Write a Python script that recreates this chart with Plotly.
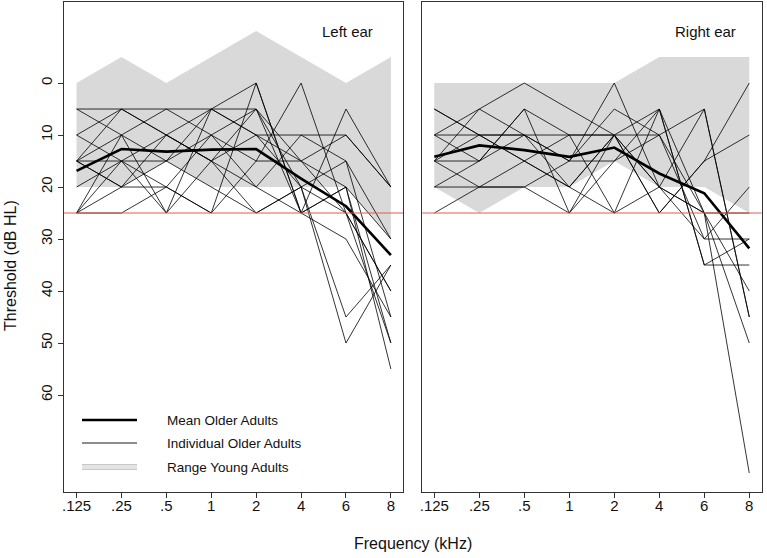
import plotly.graph_objects as go

freqs = [".125", ".25", ".5", "1", "2", "4", "6", "8"]
yticks = [0, 10, 20, 30, 40, 50, 60]

# Young adult range (min / max threshold) per ear
left_range_top = [0, -5, 0, -5, -10, -5, 0, -5]
left_range_bot = [20, 20, 15, 20, 20, 20, 20, 30]
right_range_top = [0, 0, 0, 0, 0, -5, -5, -5]
right_range_bot = [20, 25, 20, 20, 15, 20, 20, 25]

# Mean older adults
left_mean = [16.9, 12.7, 13.2, 12.8, 12.7, 18.4, 23.7, 33.1]
right_mean = [14.2, 12.0, 12.9, 14.2, 12.4, 17.4, 21.2, 31.8]

# Individual older adults
left_ind = [
    [5, 5, 10, 5, 5, 15, 10, 20],
    [5, 10, 5, 5, 0, 25, 20, 30],
    [10, 5, 10, 15, 5, 20, 45, 35],
    [10, 15, 20, 10, 15, 0, 25, 50],
    [15, 5, 5, 10, 5, 25, 5, 20],
    [15, 10, 15, 5, 10, 20, 15, 45],
    [15, 15, 10, 15, 20, 10, 10, 20],
    [15, 20, 20, 25, 15, 15, 25, 40],
    [20, 15, 15, 20, 25, 20, 50, 35],
    [25, 20, 15, 10, 20, 25, 20, 50],
    [25, 15, 25, 15, 10, 15, 20, 55],
    [25, 25, 20, 25, 0, 25, 30, 45],
    [25, 10, 25, 5, 10, 10, 15, 30],
    [15, 20, 10, 15, 25, 20, 25, 40],
]
right_ind = [
    [5, 10, 15, 20, 10, 5, 25, 40],
    [10, 5, 10, 15, 0, 20, 30, 30],
    [10, 15, 5, 10, 10, 10, 5, 45],
    [15, 5, 0, 5, 10, 25, 15, 0],
    [15, 10, 15, 20, 25, 5, 35, 35],
    [20, 15, 10, 20, 10, 20, 25, 75],
    [25, 20, 20, 15, 5, 10, 25, 50],
    [10, 10, 10, 10, 10, 25, 15, 10],
    [15, 15, 5, 25, 15, 10, 30, 20],
    [20, 20, 20, 25, 10, 20, 25, 25],
    [5, 10, 10, 15, 15, 5, 35, 30],
    [15, 20, 15, 10, 25, 20, 5, 45],
]

criterion = 25

GREY = "rgb(217,217,217)"
W, H = 767, 558
FONT = "Liberation Sans, Arial, Helvetica"

fig = go.Figure()

def add_panel(xa, ya, rtop, rbot, inds, mean):
    fig.add_trace(go.Scatter(x=freqs, y=rtop, mode="lines", line=dict(width=0, color=GREY),
                             xaxis=xa, yaxis=ya, showlegend=False, hoverinfo="skip"))
    fig.add_trace(go.Scatter(x=freqs, y=rbot, mode="lines", line=dict(width=0, color=GREY),
                             fill="tonexty", fillcolor=GREY,
                             xaxis=xa, yaxis=ya, showlegend=False, hoverinfo="skip"))
    for s in inds:
        fig.add_trace(go.Scatter(x=freqs, y=s, mode="lines", line=dict(width=0.8, color="black"),
                                 xaxis=xa, yaxis=ya, showlegend=False, hoverinfo="skip"))
    fig.add_trace(go.Scatter(x=freqs, y=mean, mode="lines", line=dict(width=2.6, color="black"),
                             xaxis=xa, yaxis=ya, showlegend=False, hoverinfo="skip"))

add_panel("x", "y", left_range_top, left_range_bot, left_ind, left_mean)
add_panel("x2", "y2", right_range_top, right_range_bot, right_ind, right_mean)

# criterion line
for xr, yr in (("x domain", "y"), ("x2 domain", "y2")):
    fig.add_shape(type="line", xref=xr, yref=yr, x0=0, x1=1, y0=criterion, y1=criterion,
                  line=dict(color="rgb(225,90,90)", width=1), layer="above")

axis_common = dict(type="category", categoryorder="array", categoryarray=freqs, automargin=False,
                   showline=True, mirror=True, linecolor="#333", linewidth=1,
                   ticks="outside", ticklen=5, tickcolor="#333", showgrid=False, zeroline=False,
                   ticklabelstandoff=-5,
                   tickfont=dict(family=FONT, size=15, color="#111"))
yaxis_common = dict(range=[78.65, -15.58], showline=True, mirror=True, linecolor="#333",
                    linewidth=1, showgrid=False, zeroline=False, automargin=False)

fig.update_layout(
    width=W, height=H, margin=dict(l=0, r=0, t=0, b=0, autoexpand=False),
    paper_bgcolor="white", plot_bgcolor="white", showlegend=False,
    xaxis=dict(domain=[64 / W, 403 / W], range=[-0.28, 7.27], anchor="y", **axis_common),
    xaxis2=dict(domain=[422.3 / W, 761.7 / W], range=[-0.267, 7.276], anchor="y2", **axis_common),
    yaxis=dict(domain=[66 / H, 556 / H], anchor="x", tickvals=yticks, ticktext=[str(v) for v in yticks],
               ticks="outside", ticklen=5, tickcolor="#333", tickangle=-90,
               tickfont=dict(family=FONT, size=15, color="#111"), **yaxis_common),
    yaxis2=dict(domain=[66 / H, 556 / H], anchor="x2", showticklabels=False, ticks="", **yaxis_common),
    font=dict(family=FONT, size=14, color="#111"),
)

def note(text, px, py, size, angle=0, xanchor="center"):
    fig.add_annotation(text=text, x=px / W, y=1 - py / H, xref="paper", yref="paper",
                       xanchor=xanchor, yanchor="middle", textangle=angle,
                       showarrow=False, font=dict(size=size))

# titles
note("Threshold (dB HL)", 11, 266, 16, angle=-90)
note("Frequency (kHz)", 413, 543, 16)
note("Left ear", 347, 32, 15)
note("Right ear", 705, 32, 15)

# legend (drawn manually)
leg = [("Mean Older Adults", 420), ("Individual Older Adults", 443), ("Range Young Adults", 467)]
x0, x1 = 82 / W, 137 / W
fig.add_shape(type="line", xref="paper", yref="paper", x0=x0, x1=x1, y0=1 - 420 / H, y1=1 - 420 / H,
              line=dict(color="black", width=2.6))
fig.add_shape(type="line", xref="paper", yref="paper", x0=x0, x1=x1, y0=1 - 443 / H, y1=1 - 443 / H,
              line=dict(color="black", width=0.9))
fig.add_shape(type="line", xref="paper", yref="paper", x0=x0, x1=x1, y0=1 - 467 / H, y1=1 - 467 / H,
              line=dict(color="rgb(200,200,200)", width=6))
fig.add_shape(type="line", xref="paper", yref="paper", x0=x0, x1=x1, y0=1 - 467 / H, y1=1 - 467 / H,
              line=dict(color="rgb(228,228,228)", width=4))
for txt, yy in leg:
    note(txt, 165, yy, 13.5, xanchor="left")

fig.write_html("out.html", config={"displayModeBar": False},
               post_script="document.body.style.margin='0';document.body.style.overflow='hidden';")
